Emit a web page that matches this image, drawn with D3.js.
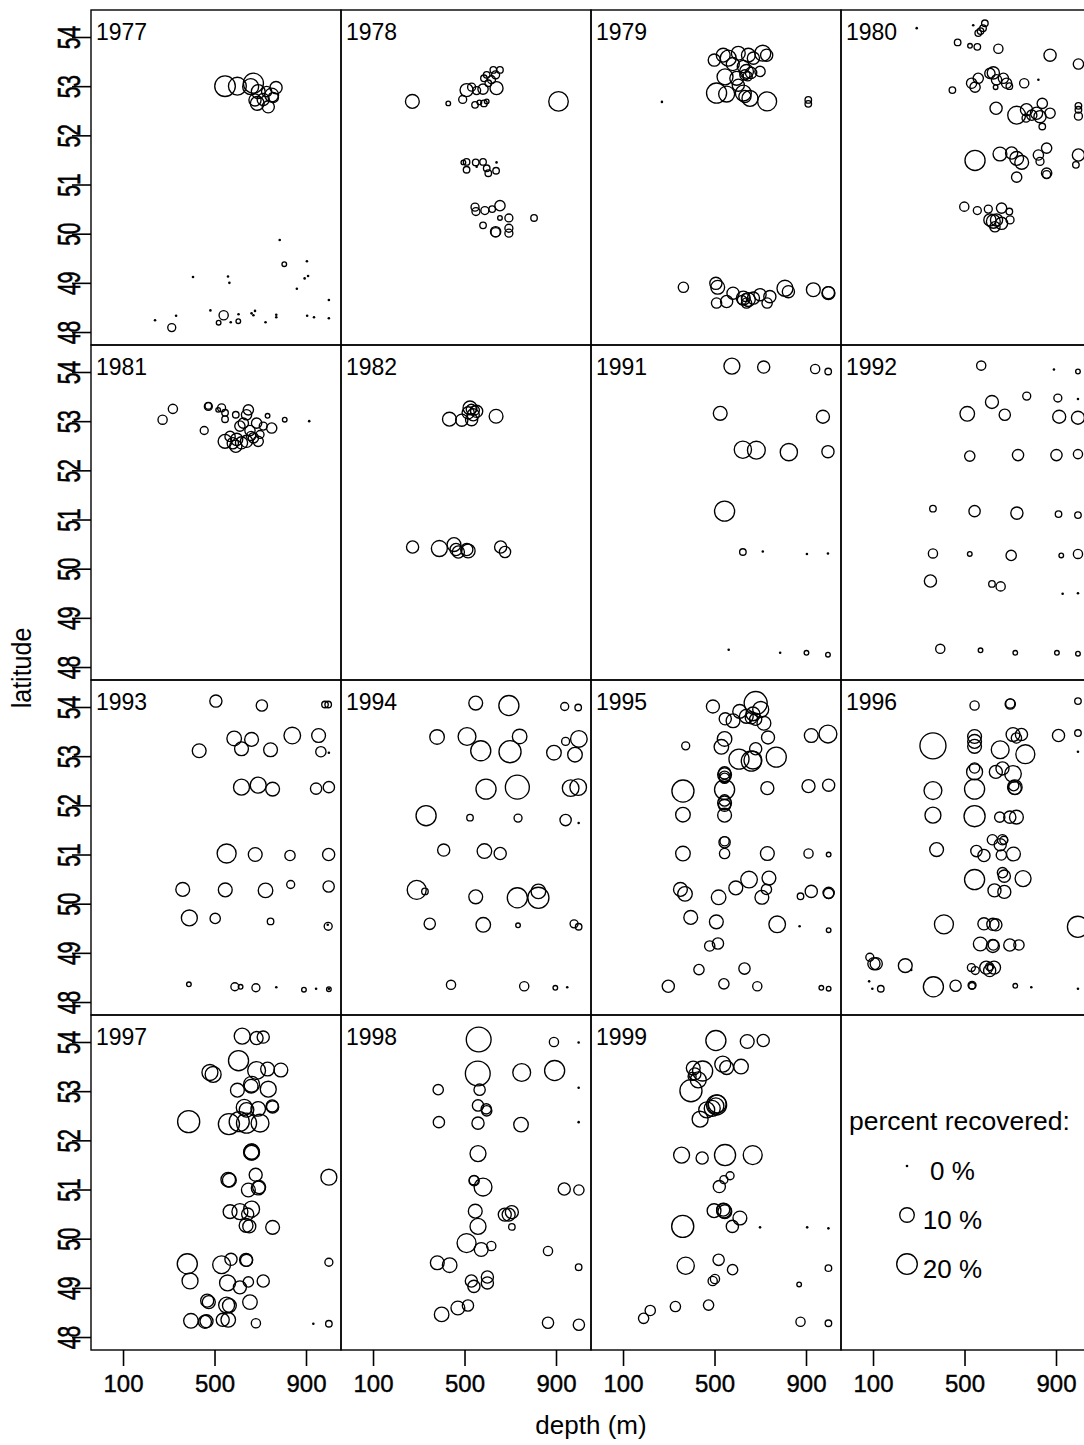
<!DOCTYPE html>
<html>
<head>
<meta charset="utf-8">
<script src="https://cdn.jsdelivr.net/npm/d3@7"></script>
<style>
  body { margin: 0; background: #fff; }
  svg text { font-family: "Liberation Sans", Arial, sans-serif; fill: #000; }
</style>
</head>
<body>
<svg id="chart"></svg>
<script>
// one row per tag release: [depth (m), latitude, percent recovered]
const years = [1977, 1978, 1979, 1980, 1981, 1982, 1991, 1992, 1993, 1994, 1995, 1996, 1997, 1998, 1999];

const y1977 = [[546,53.0,20],[600,53.0,15],[670,53.06,19],[658,52.99,12],[691,52.89,9],[769,52.97,7],[750,52.82,9],[735,52.58,7],[687,52.65,9],[757,52.77,5],[713,52.73,7],[677,52.72,7],[728,52.89,5],
  [240,48.24,0],[313,48.09,3],[332,48.33,0],[406,49.12,0],[482,48.44,0],[540,48.34,4],[518,48.19,1],[571,48.2,0],[604,48.22,1],[605,48.36,0],[559,49.13,0],[565,49.0,0],[662,48.38,0],[677,48.43,0],[670,48.34,0],[723,48.2,0],[770,48.35,0],[770,48.3,0],[785,49.87,0],[805,49.38,1],[860,48.88,0],[904,49.44,0],[894,49.09,0],[909,49.14,0],[905,48.33,0],[935,48.3,0],[1000,48.65,0],[1000,48.28,0]];

const y1978 = [[272,52.69,9],[911,52.69,18],[429,52.65,1],[492,52.73,3],[509,52.92,8],[531,52.98,3],[553,52.91,3],[581,52.94,5],[640,52.96,8],[546,52.62,2],[565,52.67,1],[585,52.65,2],[597,52.69,1],[597,53.23,2],[626,53.33,2],[655,53.33,2],[618,53.13,3],[585,53.16,2],[636,53.23,3],[604,53.06,2],
  [495,51.45,1],[509,51.3,2],[509,51.46,2],[549,51.45,2],[581,51.46,2],[597,51.33,2],[604,51.23,2],[638,51.28,2],[640,51.45,0],[553,51.36,0],
  [546,50.54,3],[550,50.45,3],[589,50.47,3],[621,50.5,2],[655,50.57,5],[655,50.32,1],[694,50.32,3],[694,50.11,3],[694,50.01,3],[581,50.17,2],[636,50.04,5],[636,50.03,4],[804,50.32,2]];

const y1979 = [[270,52.68,0],[910,52.72,2],[910,52.64,2],
  [499,53.53,7],[538,53.63,9],[560,53.57,12],[604,53.67,9],[648,53.63,9],[670,53.57,7],[711,53.67,12],[728,53.63,7],[546,53.19,12],[597,53.16,9],[640,53.3,9],[633,53.23,5],[699,53.3,5],[626,53.4,7],[509,52.86,19],[553,52.84,12],[626,52.86,12],[655,52.75,12],[730,52.69,17],[604,53.02,7],[633,52.79,7],[660,53.27,6],[645,53.2,4],[580,53.45,8],
  [364,48.91,5],[506,48.99,7],[514,48.91,9],[509,48.59,5],[553,48.62,7],[581,48.79,7],[626,48.69,9],[648,48.66,9],[670,48.69,7],[699,48.76,7],[730,48.59,5],[742,48.72,7],[808,48.89,12],[823,48.82,7],[932,48.86,9],[998,48.79,8],[998,48.8,7],[640,48.59,5],[620,48.65,4],[635,48.7,3]];

const y1980 = [[291,54.18,0],[538,54.24,0],[589,54.28,2],[581,54.18,2],[560,54.08,2],[570,54.12,2],[470,53.89,2],[524,53.82,1],[556,53.8,2],[648,53.76,4],[874,53.63,7],[998,53.45,5],[447,52.92,2],
  [531,53.06,5],[546,52.98,5],[560,53.16,5],[611,53.26,5],[626,53.27,7],[640,53.13,5],[670,53.16,5],[684,53.06,5],[636,52.98,1],[696,53.0,2],[761,53.06,4],[823,53.13,0],
  [638,52.55,7],[728,52.41,15],[771,52.52,7],[769,52.35,3],[794,52.41,5],[815,52.45,7],[840,52.65,5],[830,52.38,7],[874,52.45,5],[840,52.18,2],[998,52.6,2],[998,52.52,2],[998,52.39,3],
  [546,51.49,19],[655,51.62,9],[706,51.64,7],[728,51.53,9],[750,51.45,9],[728,51.15,5],[823,51.6,5],[859,51.74,5],[830,51.47,3],[859,51.23,5],[859,51.2,3],[998,51.6,7],[987,51.4,2],
  [499,50.55,4],[556,50.47,3],[604,50.5,3],[662,50.52,5],[696,50.45,2],[611,50.28,7],[626,50.25,9],[640,50.28,7],[662,50.21,7],[699,50.28,3],[633,50.14,5]];

const y1981 = [[273,53.03,4],[318,53.25,4],[455,52.81,3],[473,53.3,3],[473,53.31,2],[516,53.23,1],[531,53.27,3],[546,53.17,2],[546,53.04,2],[593,53.13,2],[648,53.23,5],[640,53.13,5],[732,53.11,1],[807,53.03,1],[914,53.0,0],[684,52.96,5],[750,52.86,5],[713,52.9,3],[626,52.96,5],[611,52.9,5],[655,52.81,5],[546,52.59,9],[568,52.69,5],[593,52.49,7],[618,52.56,7],[640,52.59,7],[670,52.66,5],[691,52.59,5],[699,52.73,3],[597,52.63,7],[580,52.55,6],[660,52.7,4]];

const y1982 = [[434,53.04,9],[488,53.02,7],[524,53.27,9],[516,53.17,7],[538,53.13,7],[553,53.2,7],[531,53.03,7],[638,53.1,9],[530,53.24,5],[545,53.22,4],
  [273,50.44,7],[390,50.41,12],[454,50.49,9],[463,50.39,7],[473,50.34,7],[516,50.36,9],[510,50.39,7],[658,50.44,7],[677,50.34,6]];

const y1991 = [[576,54.12,12],[715,54.1,7],[940,54.06,4],[997,54.01,2],[525,53.16,9],[974,53.09,8],[624,52.42,14],[683,52.41,15],[825,52.37,14],[996,52.38,7],[544,51.17,19],[624,50.34,2],[711,50.35,0],[904,50.3,0],[996,50.31,0],[562,48.35,0],[787,48.29,0],[902,48.29,1],[996,48.25,1]];

const y1992 = [[573,54.13,4],[891,54.05,0],[996,54.01,1],[772,53.51,3],[620,53.39,8],[908,53.47,3],[996,53.45,0],[512,53.15,10],[676,53.13,6],[914,53.09,8],[996,53.07,8],[523,52.29,5],[734,52.31,6],[902,52.31,6],[996,52.33,4],[362,51.22,2],[544,51.17,6],[729,51.13,7],[911,51.11,2],[996,51.09,2],[362,50.31,4],[523,50.3,1],[704,50.27,5],[923,50.27,1],[996,50.3,4],[351,49.75,7],[620,49.69,2],[658,49.64,4],[929,49.49,0],[996,49.5,0],[394,48.37,4],[570,48.34,1],[722,48.29,1],[904,48.29,1],[996,48.27,1]];

const y1993 = [[506,54.12,7],[707,54.03,6],[983,54.05,2],[997,54.05,2],[586,53.36,10],[662,53.34,9],[618,53.15,9],[433,53.11,9],[745,53.13,9],[840,53.42,13],[955,53.42,9],[965,53.09,5],[1000,53.07,0],[618,52.37,12],[691,52.41,12],[754,52.33,9],[944,52.34,6],[1000,52.37,6],[553,51.02,17],[678,51.0,9],[830,50.98,5],[999,51.0,7],[361,50.29,9],[547,50.28,9],[723,50.27,10],[833,50.39,3],[999,50.35,6],[390,49.71,12],[503,49.7,5],[745,49.64,2],[997,49.54,3],[995,49.57,0],[388,48.36,1],[589,48.31,3],[614,48.31,1],[681,48.29,3],[770,48.3,0],[891,48.25,1],[944,48.27,0],[1000,48.26,1],[1000,48.27,0]];

const y1994 = [[549,54.08,9],[694,54.03,19],[938,54.01,3],[997,53.99,2],[380,53.39,10],[511,53.4,15],[741,53.4,10],[571,53.11,19],[699,53.09,23],[891,53.07,10],[942,53.3,3],[1000,53.35,13],[983,53.03,10],[594,52.33,19],[731,52.37,27],[964,52.35,13],[997,52.37,13],[332,51.79,19],[524,51.75,2],[734,51.74,3],[942,51.7,6],[999,51.64,0],[409,51.09,7],[587,51.07,10],[656,51.02,7],[291,50.28,17],[327,50.25,2],[549,50.14,9],[731,50.12,19],[823,50.12,21],[823,50.25,10],[348,49.59,6],[582,49.57,10],[734,49.56,1],[979,49.59,3],[999,49.53,2],[441,48.35,4],[761,48.32,4],[897,48.29,1],[949,48.3,0]];

const y1995 = [[493,54.01,8],[680,54.08,25],[610,53.91,9],[702,53.95,12],[547,53.76,7],[581,53.72,9],[639,53.81,9],[668,53.86,9],[661,53.78,7],[716,53.67,9],[680,53.75,7],[544,53.35,10],[734,53.38,8],[923,53.42,9],[996,53.45,15],[374,53.21,3],[530,53.19,10],[680,53.15,7],[607,52.94,19],[661,52.9,19],[668,52.92,15],[770,52.98,19],[544,52.62,9],[544,52.66,7],[544,52.58,6],[544,52.55,5],[544,52.32,19],[362,52.29,23],[731,52.35,8],[911,52.39,8],[999,52.41,7],[544,52.05,9],[544,52.0,7],[544,52.1,6],[544,51.8,9],[362,51.81,10],[544,51.27,4],[544,51.25,6],[544,51.02,5],[362,51.02,10],[731,51.02,9],[911,51.02,4],[999,51.0,1],[351,50.29,9],[371,50.2,10],[518,50.13,10],[593,50.32,9],[651,50.49,13],[738,50.52,9],[727,50.29,5],[707,50.13,9],[876,50.15,2],[923,50.25,7],[999,50.22,6],[999,50.21,5],[396,49.72,9],[508,49.63,9],[774,49.58,13],[872,49.54,0],[999,49.46,1],[515,49.19,6],[479,49.14,5],[432,48.66,5],[631,48.68,6],[298,48.32,7],[541,48.37,5],[687,48.32,4],[967,48.29,1],[999,48.27,1]];

const y1996 = [[544,54.03,4],[700,54.06,5],[700,54.07,4],[996,54.12,2],[362,53.21,32],[544,53.4,9],[544,53.3,9],[544,53.2,9],[656,53.13,15],[712,53.44,9],[749,53.44,7],[727,53.37,5],[766,53.04,17],[911,53.42,7],[996,53.47,2],[996,53.09,0],[544,52.76,5],[544,52.68,12],[637,52.68,8],[666,52.75,8],[712,52.64,13],[720,52.37,10],[720,52.35,8],[715,52.4,5],[362,52.3,15],[544,52.33,19],[362,51.8,12],[544,51.78,21],[654,51.76,5],[698,51.76,7],[727,51.76,9],[378,51.1,9],[552,51.07,6],[585,50.98,7],[622,51.3,5],[666,51.3,5],[672,51.29,3],[656,51.2,7],[661,50.99,5],[714,51.01,9],[544,50.49,19],[666,50.63,5],[674,50.56,7],[756,50.51,12],[631,50.27,8],[674,50.24,8],[410,49.58,17],[585,49.59,7],[624,49.58,7],[637,49.57,7],[996,49.53,21],[569,49.18,9],[624,49.14,8],[626,49.16,5],[698,49.16,7],[738,49.16,5],[86,48.91,3],[104,48.78,7],[114,48.78,7],[241,48.74,9],[267,48.65,0],[530,48.7,3],[547,48.64,3],[595,48.7,8],[610,48.64,7],[629,48.7,8],[610,48.72,3],[83,48.42,0],[97,48.27,0],[134,48.27,2],[364,48.31,19],[461,48.33,6],[533,48.34,3],[533,48.33,2],[722,48.33,1],[792,48.3,0],[996,48.27,0]];

const y1997 = [[621,54.12,12],[684,54.08,8],[713,54.1,7],[605,53.62,19],[480,53.38,12],[494,53.34,12],[684,53.42,15],[732,53.45,9],[790,53.43,9],[662,53.14,12],[660,53.1,9],[600,53.02,9],[735,53.04,12],[630,52.67,12],[640,52.62,10],[691,52.64,10],[752,52.7,7],[754,52.68,7],[387,52.38,23],[563,52.33,21],[608,52.38,19],[640,52.35,19],[699,52.35,15],[662,51.76,12],[662,51.77,11],[662,51.75,10],[560,51.2,10],[565,51.19,9],[680,51.3,8],[648,50.99,9],[691,51.03,9],[695,51.05,8],[1000,51.25,12],[568,50.55,9],[611,50.55,12],[662,50.6,12],[645,50.5,7],[638,50.27,9],[652,50.25,8],[754,50.23,9],[381,49.49,19],[531,49.47,15],[572,49.58,7],[638,49.57,8],[640,49.56,7],[393,49.14,12],[557,49.1,12],[611,49.01,8],[648,49.12,5],[713,49.14,7],[1000,49.52,3],[468,48.74,8],[475,48.71,8],[553,48.65,12],[565,48.64,9],[655,48.71,10],[397,48.33,10],[458,48.31,8],[465,48.32,8],[536,48.35,8],[560,48.35,10],[681,48.28,4],[932,48.27,0],[1000,48.27,2]];

const y1998 = [[562,54.05,29],[891,54.0,4],[999,53.99,0],[558,53.36,29],[750,53.38,15],[894,53.42,19],[385,53.03,5],[566,53.03,6],[999,53.07,0],[559,52.71,6],[595,52.64,5],[597,52.6,5],[388,52.37,6],[559,52.35,7],[747,52.32,10],[999,52.37,0],[559,51.73,12],[541,51.19,4],[542,51.18,5],[581,51.05,15],[936,51.01,7],[1000,50.99,5],[547,50.56,9],[676,50.49,8],[693,50.49,8],[707,50.54,8],[707,50.24,2],[559,50.25,12],[509,49.91,17],[573,49.78,9],[617,49.85,4],[865,49.75,4],[381,49.51,9],[435,49.46,10],[999,49.42,2],[530,49.14,7],[541,49.03,7],[600,49.22,7],[600,49.1,7],[471,48.59,9],[515,48.64,6],[400,48.46,10],[865,48.29,6],[1000,48.25,6]];

const y1999 = [[506,54.03,19],[643,54.01,9],[713,54.03,7],[407,53.47,9],[414,53.35,7],[402,53.3,3],[448,53.41,19],[536,53.55,12],[553,53.48,9],[616,53.5,10],[429,53.23,12],[397,53.01,23],[509,52.72,19],[512,52.74,15],[506,52.7,12],[490,52.65,12],[466,52.62,12],[437,52.43,12],[356,51.7,12],[446,51.64,7],[546,51.7,21],[667,51.7,17],[568,51.28,3],[541,51.2,3],[521,51.06,7],[498,50.57,9],[541,50.57,10],[545,50.55,9],[538,50.59,8],[611,50.42,9],[578,50.25,7],[361,50.25,23],[699,50.23,0],[905,50.23,0],[998,50.21,0],[374,49.45,14],[518,49.57,6],[579,49.37,5],[492,49.14,4],[502,49.18,4],[998,49.4,2],[870,49.07,1],[219,48.54,5],[190,48.38,5],[329,48.62,5],[474,48.65,5],[876,48.31,4],[998,48.28,2]];

const depthTicks = [100, 500, 900];
const latTicks = [48, 49, 50, 51, 52, 53, 54];
const legendPcts = [0, 10, 20];

let panelData = [y1977, y1978, y1979, y1980, y1981, y1982, y1991, y1992, y1993, y1994, y1995, y1996, y1997, y1998, y1999];

let padding = {
  left: 91,
  top: 10
};
let panelW = 250, panelH = 335;
let ncol = 4, nrow = 4;

let svg = d3.select('#chart')
  .attr('width', 1084)
  .attr('height', 1445);

let xScale = d3.scaleLinear().domain([-40, 1053]).range([0, panelW]);
let yScale = d3.scaleLinear().domain([47.736, 54.549]).range([panelH, 0]);
let rScale = d3.scaleSqrt().domain([0, 20]).range([0, 10.3]);

let drawMark = (sel) => {
  sel.attr('r', d => d[2] > 0 ? rScale(d[2]) : 1.3)
    .attr('fill', d => d[2] > 0 ? 'none' : '#000')
    .attr('stroke', d => d[2] > 0 ? '#000' : 'none')
    .attr('stroke-width', 1.35);
};

for (let i = 0; i < ncol * nrow; i++) {
  let col = i % ncol, row = Math.floor(i / ncol);
  let g = svg.append('g')
    .attr('transform', `translate(${padding.left + col * panelW}, ${padding.top + row * panelH})`);

  if (i < years.length) {
    svg.append('clipPath').attr('id', `clip${i}`)
      .append('rect').attr('width', panelW).attr('height', panelH);

    g.append('g')
      .attr('clip-path', `url(#clip${i})`)
      .selectAll('circle')
      .data(panelData[i])
      .enter()
      .append('circle')
      .attr('cx', d => xScale(d[0]))
      .attr('cy', d => yScale(d[1]))
      .call(drawMark);

    g.append('text')
      .attr('x', 5)
      .attr('y', 30)
      .attr('font-size', 23)
      .text(years[i]);
  }

  g.append('rect')
    .attr('width', panelW)
    .attr('height', panelH)
    .attr('fill', 'none')
    .attr('stroke', '#000')
    .attr('stroke-width', 1.4);

  if (col == 0) {
    let ax = g.append('g')
      .call(d3.axisLeft(yScale).tickValues(latTicks).tickFormat(d3.format('d')).tickSize(19).tickSizeOuter(0));
    ax.select('.domain').remove();
    ax.selectAll('line').attr('stroke-width', 1.6);
    ax.selectAll('text')
      .attr('x', null)
      .attr('dy', null)
      .attr('text-anchor', 'middle')
      .attr('font-family', '"Liberation Sans", Arial, sans-serif')
      .attr('font-size', 21)
      .attr('stroke', '#000')
      .attr('stroke-width', 0.4)
      .attr('transform', 'translate(-11,0) rotate(-90) scale(1,1.45)');
  }

  if (row == nrow - 1) {
    let ax = g.append('g')
      .attr('transform', `translate(0, ${panelH})`)
      .call(d3.axisBottom(xScale).tickValues(depthTicks).tickFormat(d3.format('d')).tickSize(16).tickSizeOuter(0));
    ax.select('.domain').remove();
    ax.selectAll('line').attr('stroke-width', 1.6);
    ax.selectAll('text')
      .attr('y', 42)
      .attr('dy', null)
      .attr('font-family', '"Liberation Sans", Arial, sans-serif')
      .attr('font-size', 24)
      .attr('stroke', '#000')
      .attr('stroke-width', 0.4);
  }
}

// axis titles
svg.append('text')
  .attr('transform', 'translate(31, 668) rotate(-90) scale(1,1.1)')
  .attr('text-anchor', 'middle')
  .attr('font-size', 25)
  .text('latitude');

svg.append('text')
  .attr('x', padding.left + ncol * panelW / 2)
  .attr('y', 1434)
  .attr('text-anchor', 'middle')
  .attr('font-size', 26)
  .text('depth (m)');

// legend in the empty cell
let legend = svg.append('g');

legend.append('text')
  .attr('x', 849)
  .attr('y', 1130)
  .attr('font-size', 26.5)
  .text('percent recovered:');

let items = legend.selectAll('.item')
  .data(legendPcts)
  .enter()
  .append('g')
  .attr('class', 'item')
  .attr('transform', (d, i) => `translate(907, ${1166 + i * 49})`);

items.append('circle')
  .datum(d => [0, 0, d])
  .call(drawMark);

items.append('text')
  .attr('x', 45.5)
  .attr('y', 14)
  .attr('text-anchor', 'middle')
  .attr('font-size', 26)
  .text(d => `${d} %`);
</script>
</body>
</html>
